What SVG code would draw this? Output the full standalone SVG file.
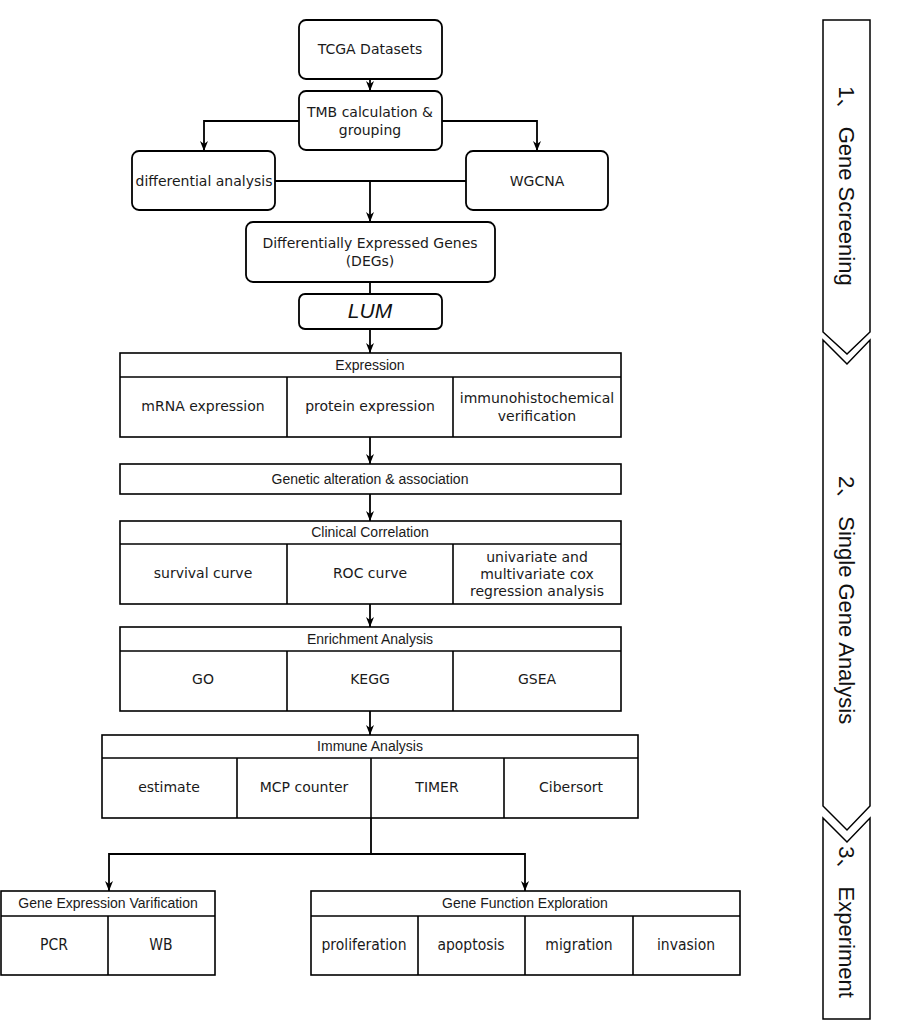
<svg xmlns="http://www.w3.org/2000/svg" width="903" height="1029" viewBox="0 0 903 1029">
<defs>
<marker id="arr" viewBox="0 0 10 10" refX="10" refY="5" markerWidth="10" markerHeight="10" markerUnits="userSpaceOnUse" orient="auto">
<path d="M0,1 L10,5 L0,9 L3,5 Z" fill="#000"/>
</marker>
<style>
.box{fill:#fff;stroke:#000;stroke-width:1.8}
.tb{fill:#fff;stroke:#000;stroke-width:1.6}
.ln{fill:none;stroke:#000;stroke-width:1.6}
.c{stroke:#000;stroke-width:1.8;fill:none}
.t{font-family:"DejaVu Sans",Verdana,sans-serif;font-size:14px;fill:#1a1a1a;text-anchor:middle}
.h{font-family:"Liberation Sans",Arial,sans-serif;font-size:14px;fill:#1a1a1a;text-anchor:middle}
.n{font-family:"DejaVu Sans Condensed","DejaVu Sans",sans-serif;font-stretch:condensed;font-size:15.5px;fill:#1a1a1a;text-anchor:middle}
.s{font-family:"Liberation Sans","Noto Sans CJK SC",Arial,sans-serif;font-size:22px;fill:#111;text-anchor:middle}
.side{fill:#fff;stroke:#000;stroke-width:1.5;stroke-linejoin:miter}
</style>
</defs>
<rect width="903" height="1029" fill="#fff"/>

<g id="connectors">
<line class="c" x1="370" y1="79" x2="370" y2="91" marker-end="url(#arr)"/>
<polyline class="c" points="299,121 204,121 204,151" marker-end="url(#arr)"/>
<polyline class="c" points="442,121 537,121 537,151" marker-end="url(#arr)"/>
<line class="c" x1="275" y1="181" x2="466" y2="181"/>
<line class="c" x1="370" y1="181" x2="370" y2="222" marker-end="url(#arr)"/>
<line class="c" x1="370" y1="282" x2="370" y2="294"/>
<line class="c" x1="370" y1="329" x2="370" y2="353" marker-end="url(#arr)"/>
<line class="c" x1="370" y1="437" x2="370" y2="464" marker-end="url(#arr)"/>
<line class="c" x1="370" y1="494" x2="370" y2="521" marker-end="url(#arr)"/>
<line class="c" x1="370" y1="604" x2="370" y2="627" marker-end="url(#arr)"/>
<line class="c" x1="370" y1="711" x2="370" y2="735" marker-end="url(#arr)"/>
<polyline class="c" points="371,818 371,854 109,854 109,891" marker-end="url(#arr)"/>
<polyline class="c" points="371,854 525,854 525,891" marker-end="url(#arr)"/>
</g>

<g id="tcga">
<rect class="box" x="299" y="20" width="143" height="59" rx="7"/>
<text class="t" x="370" y="54">TCGA Datasets</text>
</g>
<g id="tmb">
<rect class="box" x="299" y="91" width="143" height="59" rx="7"/>
<text class="t" x="370" y="117">TMB calculation &amp;</text>
<text class="t" x="370" y="135">grouping</text>
</g>
<g id="diff">
<rect class="box" x="132" y="151" width="143" height="59" rx="7"/>
<text class="t" x="204" y="186">differential analysis</text>
</g>
<g id="wgcna">
<rect class="box" x="466" y="151" width="142" height="59" rx="7"/>
<text class="t" x="537" y="186">WGCNA</text>
</g>
<g id="degs">
<rect class="box" x="246" y="222" width="249" height="60" rx="7"/>
<text class="t" x="370" y="248">Differentially Expressed Genes</text>
<text class="t" x="370" y="266">(DEGs)</text>
</g>
<g id="lum">
<rect class="box" x="299" y="294" width="143" height="35" rx="6"/>
<text x="370" y="318" style="font-family:'Liberation Sans',Arial,sans-serif;font-size:21px;font-style:italic;fill:#111;text-anchor:middle">LUM</text>
</g>

<g id="expression">
<rect class="tb" x="120" y="353" width="501" height="84"/>
<line class="ln" x1="120" y1="377" x2="621" y2="377"/>
<line class="ln" x1="287" y1="377" x2="287" y2="437"/>
<line class="ln" x1="453" y1="377" x2="453" y2="437"/>
<text class="h" x="370" y="370">Expression</text>
<text class="t" x="203" y="411">mRNA expression</text>
<text class="t" x="370" y="411">protein expression</text>
<text class="t" x="537" y="403">immunohistochemical</text>
<text class="t" x="537" y="421">verification</text>
</g>

<g id="genetic">
<rect class="tb" x="120" y="464" width="501" height="30"/>
<text class="h" x="370" y="484">Genetic alteration &amp; association</text>
</g>

<g id="clinical">
<rect class="tb" x="120" y="521" width="501" height="83"/>
<line class="ln" x1="120" y1="544" x2="621" y2="544"/>
<line class="ln" x1="287" y1="544" x2="287" y2="604"/>
<line class="ln" x1="453" y1="544" x2="453" y2="604"/>
<text class="h" x="370" y="537">Clinical Correlation</text>
<text class="t" x="203" y="578">survival curve</text>
<text class="t" x="370" y="578">ROC curve</text>
<text class="t" x="537" y="562">univariate and</text>
<text class="t" x="537" y="579">multivariate cox</text>
<text class="t" x="537" y="596">regression analysis</text>
</g>

<g id="enrichment">
<rect class="tb" x="120" y="627" width="501" height="84"/>
<line class="ln" x1="120" y1="651" x2="621" y2="651"/>
<line class="ln" x1="287" y1="651" x2="287" y2="711"/>
<line class="ln" x1="453" y1="651" x2="453" y2="711"/>
<text class="h" x="370" y="644">Enrichment Analysis</text>
<text class="t" x="203" y="684">GO</text>
<text class="t" x="370" y="684">KEGG</text>
<text class="t" x="537" y="684">GSEA</text>
</g>

<g id="immune">
<rect class="tb" x="102" y="735" width="536" height="83"/>
<line class="ln" x1="102" y1="758" x2="638" y2="758"/>
<line class="ln" x1="237" y1="758" x2="237" y2="818"/>
<line class="ln" x1="371" y1="758" x2="371" y2="818"/>
<line class="ln" x1="504" y1="758" x2="504" y2="818"/>
<text class="h" x="370" y="751">Immune Analysis</text>
<text class="t" x="169" y="792">estimate</text>
<text class="t" x="304" y="792">MCP counter</text>
<text class="t" x="437" y="792">TIMER</text>
<text class="t" x="571" y="792">Cibersort</text>
</g>

<g id="verification">
<rect class="tb" x="1" y="891" width="214" height="84"/>
<line class="ln" x1="1" y1="916" x2="215" y2="916"/>
<line class="ln" x1="108" y1="916" x2="108" y2="975"/>
<text class="h" x="108" y="908">Gene Expression Varification</text>
<text class="n" x="54" y="950">PCR</text>
<text class="n" x="161" y="950">WB</text>
</g>

<g id="function">
<rect class="tb" x="311" y="891" width="429" height="84"/>
<line class="ln" x1="311" y1="916" x2="740" y2="916"/>
<line class="ln" x1="418" y1="916" x2="418" y2="975"/>
<line class="ln" x1="525" y1="916" x2="525" y2="975"/>
<line class="ln" x1="633" y1="916" x2="633" y2="975"/>
<text class="h" x="525" y="908">Gene Function Exploration</text>
<text class="n" x="364" y="950">proliferation</text>
<text class="n" x="471" y="950">apoptosis</text>
<text class="n" x="579" y="950">migration</text>
<text class="n" x="686" y="950">invasion</text>
</g>

<g id="stage1">
<path class="side" d="M823,20 H870 V332 L847,354 L823,332 Z"/>
<text class="s" transform="translate(839,186) rotate(90)">1、 Gene Screening</text>
</g>
<g id="stage2">
<path class="side" d="M823,340 L847,364 L870,340 V806 L847,830 L823,806 Z"/>
<text class="s" transform="translate(839,600) rotate(90)">2、 Single Gene Analysis</text>
</g>
<g id="stage3">
<path class="side" d="M823,818 L847,842 L870,818 V1019 H823 Z"/>
<text class="s" transform="translate(839,922) rotate(90)">3、 Experiment</text>
</g>
</svg>
